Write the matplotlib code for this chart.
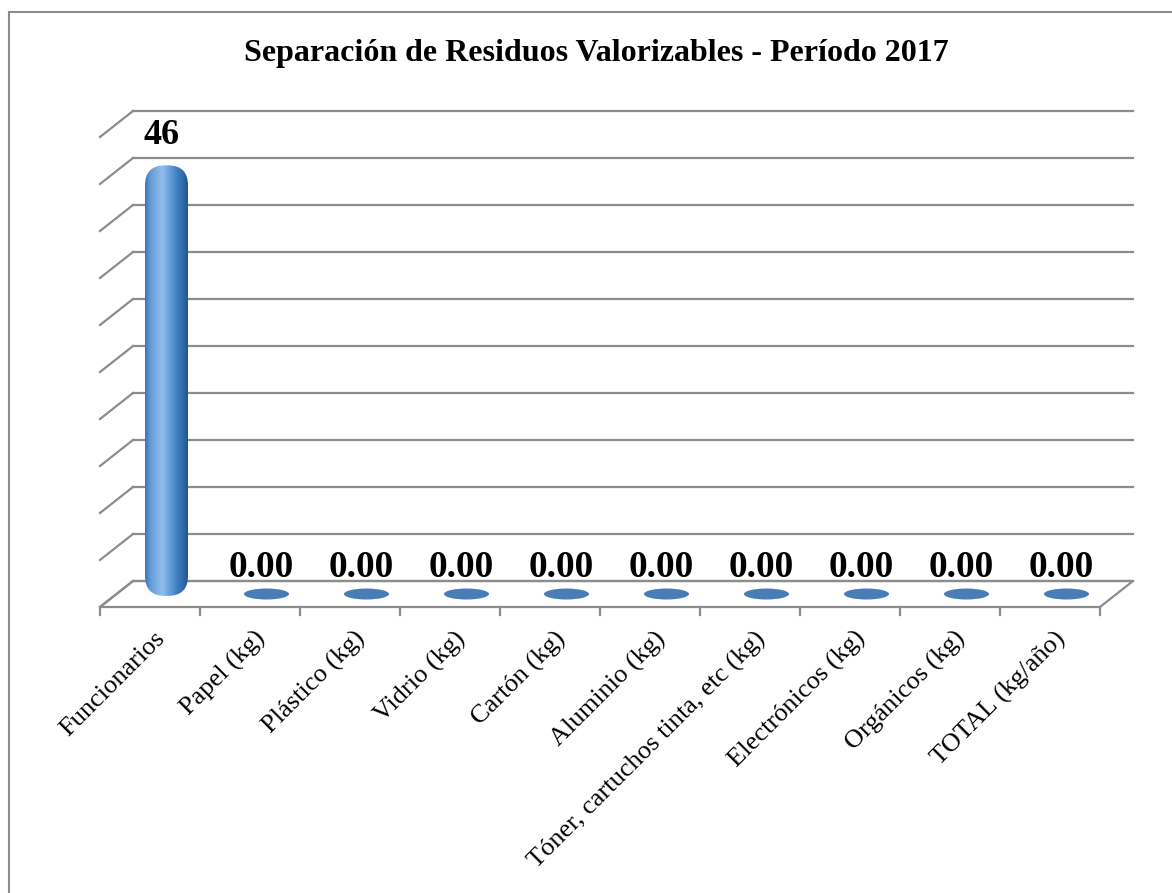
import matplotlib.pyplot as plt
import numpy as np
from matplotlib.patches import FancyBboxPatch, Ellipse, Polygon

categorias = ['Funcionarios', 'Papel (kg)', 'Plástico (kg)', 'Vidrio (kg)', 'Cartón (kg)',
              'Aluminio (kg)', 'Tóner, cartuchos tinta, etc (kg)', 'Electrónicos (kg)',
              'Orgánicos (kg)', 'TOTAL (kg/año)']
valores = [46, 0, 0, 0, 0, 0, 0, 0, 0, 0]
etiquetas = ['46', '0.00', '0.00', '0.00', '0.00', '0.00', '0.00', '0.00', '0.00', '0.00']
titulo = 'Separación de Residuos Valorizables - Período 2017'
ymax, ystep = 50, 5

plt.rcParams['font.family'] = ['Liberation Serif', 'DejaVu Serif']

W, H = 1172, 893
fig = plt.figure(figsize=(W / 100, H / 100), dpi=100)

# front plane of the 3d box, in pixels
left, right, bottom, top = 100, 1100, 607, 137
ax = fig.add_axes([left / W, 1 - bottom / H, (right - left) / W, (bottom - top) / H])
n = len(categorias)
ax.set_xlim(-0.5, n - 0.5)
ax.set_ylim(0, ymax)
ax.axis('off')

# depth offset (back wall vs front) in data units
px_x = (right - left) / n          # pixels per category
px_y = (bottom - top) / ymax       # pixels per unit
dx = 33 / px_x
dy = 26 / px_y
grid_c = '#8c8c8c'

# back wall gridlines + left wall stubs
for v in np.arange(0, ymax + ystep, ystep):
    ax.plot([-0.5 + dx, n - 0.5 + dx], [v + dy, v + dy], color=grid_c, lw=1.6, clip_on=False)
    ax.plot([-0.5, -0.5 + dx], [v, v + dy], color=grid_c, lw=1.6, clip_on=False)

# floor
floor = Polygon([[-0.5, 0], [n - 0.5, 0], [n - 0.5 + dx, dy], [-0.5 + dx, dy]],
                closed=True, fill=False, edgecolor=grid_c, lw=1.6, clip_on=False)
ax.add_patch(floor)
for i in range(n + 1):
    ax.plot([i - 0.5, i - 0.5], [0, -8 / px_y], color=grid_c, lw=1.6, clip_on=False)

# bars (cylinders) at mid depth
bw = 0.43
grad = np.linspace(0, 1, 200)
cols = np.interp(grad, [0, 0.12, 0.4, 0.75, 1], [0.55, 0.75, 0.95, 0.6, 0.35])
base = np.array([0x3f, 0x7f, 0xc4]) / 255
hi = np.array([0x9c, 0xc8, 0xf2]) / 255
dark = np.array([0x25, 0x55, 0x90]) / 255
rgb = np.zeros((1, 200, 3))
for k, c in enumerate(cols):
    if c >= 0.6:
        t = (c - 0.6) / 0.4
        rgb[0, k] = base * (1 - t) + hi * t
    else:
        t = (0.6 - c) / 0.25
        rgb[0, k] = base * (1 - t) + dark * t

for i, v in enumerate(valores):
    xc = i + dx / 2
    y0 = dy / 2
    if v > 0:
        r = 0.2
        b0 = y0 - 0.2
        patch = FancyBboxPatch((xc - bw / 2, b0), bw, v + y0 - b0 - 0.4,
                               boxstyle=f'round,pad=0,rounding_size={r}',
                               mutation_aspect=px_x / px_y,
                               facecolor='none', edgecolor='none', clip_on=False)
        ax.add_patch(patch)
        im = ax.imshow(rgb, extent=[xc - bw / 2, xc + bw / 2, b0, y0 + v],
                       aspect='auto', zorder=3, clip_on=True)
        im.set_clip_path(patch)
        ax.text(xc - 0.05, y0 + v + 1.0, etiquetas[i], ha='center', va='bottom',
                fontsize=26, fontweight='bold')
    else:
        ax.add_patch(Ellipse((xc, y0), 0.45, 11 / px_y, facecolor='#4a7db5',
                             edgecolor='none', zorder=3, clip_on=False))
        ax.text(xc - 0.05, y0 + 1.0, etiquetas[i], ha='center', va='bottom',
                fontsize=27, fontweight='bold')
ax.set_xlim(-0.5, n - 0.5)
ax.set_ylim(0, ymax)

# category labels
for i, c in enumerate(categorias):
    ax.text(i + 0.04, -20 / px_y, c, rotation=45, ha='right', va='top',
            rotation_mode='anchor', fontsize=19)

fig.text(596 / W, 1 - 54 / H, titulo, ha='center', va='center',
         fontsize=23, fontweight='bold')

# chart border (top and left visible)
fig.add_artist(plt.Line2D([9 / W, 1], [1 - 12 / H, 1 - 12 / H], color='#8c8c8c', lw=1.5))
fig.add_artist(plt.Line2D([9 / W, 9 / W], [0, 1 - 12 / H], color='#8c8c8c', lw=1.5))

fig.savefig('out.png', dpi=100)
